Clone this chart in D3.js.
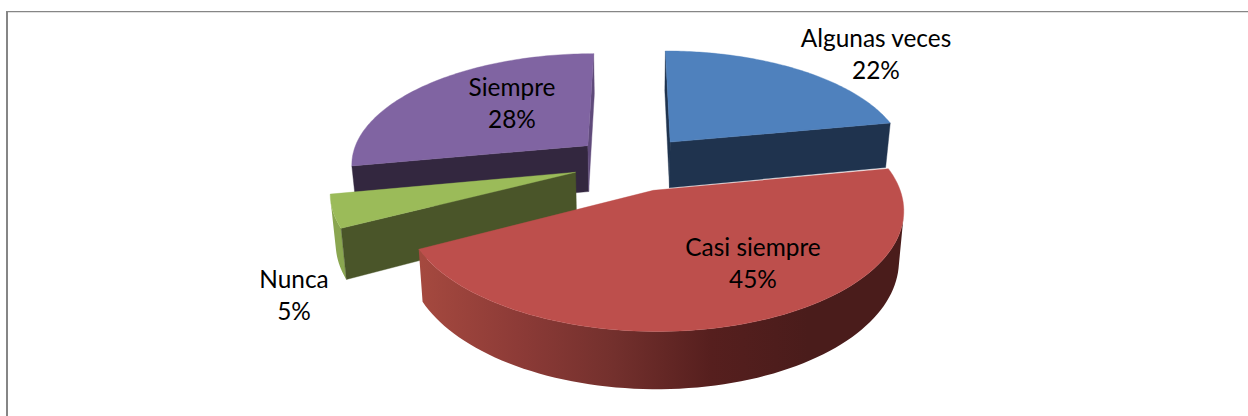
<!DOCTYPE html>
<html><head><meta charset="utf-8">
<script src="https://cdn.jsdelivr.net/npm/d3@7"></script>
<style>html,body{margin:0;padding:0;background:#fff}svg{display:block}</style></head>
<body><svg id="c" width="1248" height="416"></svg>
<script>
const categories = ["Algunas veces","Casi siempre","Nunca","Siempre"];
const values = [22,45.4,4.6,28];
const percentLabels = ["22%","45%","5%","28%"];
const topColors = ["#4f81bd","#bd4f4c","#9bbb59","#8064a2"];
const startFaceColors = ["#1f334e","#4f1f1d","#4a5529","#33273f"];
const endFaceColors = ["#1f334e","#4f1f1d","#4a5529","#5f4a7a"];
const rimColors = ["#2c4a70","#8f3c39","#8aa650","#5f4a7a"];
const wallStops = ["#a5493f","#8d3b37","#73302d","#561f1e","#4a1c1b","#4a1c1b"];
const labelCenters = [[876,54],[753,263],[294,295],[512,103]];
const drawOrder = [3,0,2,1];

const W=1248,H=416,cx=633,cy=163,R=238,EXPLODE=60,TILT=0.465,DEPTH=1581,THICK=47,BOTTOM_SHRINK=0.982;
const svg=d3.select("#c");
svg.append("line").attr("x1",7).attr("x2",7).attr("y1",11).attr("y2",H)
  .attr("stroke","#868686").attr("stroke-width",2);
svg.append("line").attr("x1",6).attr("x2",W).attr("y1",11.6).attr("y2",11.6)
  .attr("stroke","#868686").attr("stroke-width",1.3);

const pie=d3.pie().sort(null).value(d=>d);
const arcs=pie(values);
function project(X,Y,low){
  const s=1/(1-Y/DEPTH);
  const f=low?BOTTOM_SHRINK:1;
  return [cx+X*s*f, cy+Y*TILT*s+(low?THICK*s:0)];
}
function polar(a,r,ox,oy){return [ox+r*Math.sin(a), oy-r*Math.cos(a)];}
const line=d3.line();
const grad=svg.append("defs").append("linearGradient").attr("id","wall").attr("gradientUnits","userSpaceOnUse")
  .attr("x1",420).attr("x2",905).attr("y1",0).attr("y2",0);
wallStops.forEach((c,i)=>grad.append("stop").attr("offset",i/(wallStops.length-1)).attr("stop-color",c));

drawOrder.forEach(i=>{
  const a=arcs[i], mid=(a.startAngle+a.endAngle)/2;
  const ox=EXPLODE*Math.sin(mid), oy=-EXPLODE*Math.cos(mid);
  const apex=[ox,oy];
  const p0=polar(a.startAngle,R,ox,oy), p1=polar(a.endAngle,R,ox,oy);
  const angs=d3.range(0,91).map(k=>a.startAngle+(a.endAngle-a.startAngle)*k/90);
  const rim=angs.map(t=>polar(t,R,ox,oy));
  const g=svg.append("g");
  const quadPts=(u,v)=>[project(...u),project(...v),project(...v,true),project(...u,true)];
  // only faces turned towards the viewer are drawn (the solid is convex)
  const face=(u,v,sign,fill)=>{
    const pts=quadPts(u,v);
    if(sign*d3.polygonArea(pts)<=0) return;
    g.append("path").attr("d",line(pts)+"Z").attr("fill",fill).attr("stroke",fill).attr("stroke-width",.4);
  };
  // outer wall: keep only the rim segments that face the viewer
  const frontRim=rim.filter((p,k)=>{
    const q=k<rim.length-1?rim[k+1]:null, r=k>0?rim[k-1]:null;
    const pts=q?quadPts(p,q):quadPts(r,p);
    return d3.polygonArea(pts)>0;
  });
  if(frontRim.length>1){
    const wallPts=frontRim.map(p=>project(...p)).concat(frontRim.slice().reverse().map(p=>project(...p,true)));
    g.append("path").attr("d",line(wallPts)+"Z").attr("fill",i===1?"url(#wall)":rimColors[i]);
  }
  face(apex,p0,1,startFaceColors[i]);
  face(apex,p1,-1,endFaceColors[i]);
  const topPts=[project(...apex)].concat(rim.map(p=>project(...p)));
  g.append("path").attr("d",line(topPts)+"Z").attr("fill",topColors[i])
    .attr("stroke",topColors[i]).attr("stroke-width",.4);
});

const label=svg.append("g").attr("font-family","Lato, 'Open Sans', sans-serif")
  .attr("font-size",24.4).attr("fill","#000").attr("text-anchor","middle");
categories.forEach((c,i)=>{
  const [x,y]=labelCenters[i];
  label.append("text").attr("x",x).attr("y",y-7).text(c);
  label.append("text").attr("x",x).attr("y",y+25).text(percentLabels[i]);
});
</script></body></html>
